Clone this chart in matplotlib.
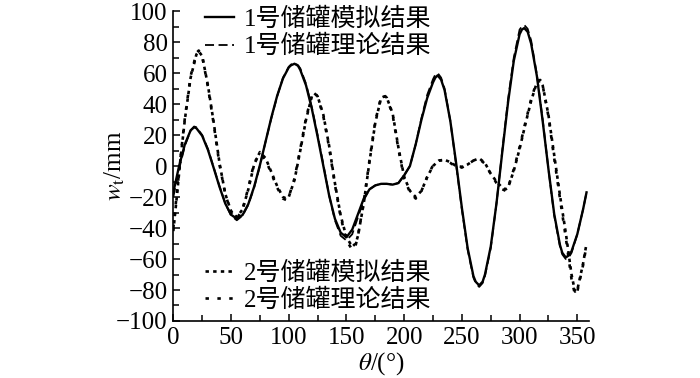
import matplotlib
matplotlib.use('Agg')
import matplotlib.pyplot as plt
from matplotlib.font_manager import FontProperties
from matplotlib.ticker import MultipleLocator

# 1号储罐 (模拟 / 理论)
theta_1 = [0, 5, 10, 15, 18, 20, 25, 30, 35, 40, 45, 50, 55, 60, 65, 70, 75, 80, 85, 90, 95,
           100, 102, 105, 108, 110, 115, 120, 125, 130, 135, 140, 145, 150, 155, 160, 165,
           170, 175, 180, 185, 190, 195, 200, 205, 210, 215, 220, 225, 227, 229, 232, 235,
           240, 245, 250, 255, 260, 262, 265, 268, 270, 275, 280, 285, 290, 295, 300, 302,
           304, 307, 310, 315, 320, 325, 330, 335, 337, 340, 343, 345, 350, 355, 358]
w_sim1 = [-17, 0, 14, 23, 25, 24.4, 19.5, 10.4, -1.3, -13.4, -24.2, -31.4, -34, -31.6, -24.5,
          -13.4, 0.5, 16, 31.5, 45.4, 56.5, 63.6,
          65, 66, 64.7,
          62, 52, 37, 19, 0, -19, -34, -43, -46, -41, -31, -21, -15, -12.5, -11.5, -11.5,
          -12, -11, -6, 0, 14, 30, 44, 54,
          57, 58.5, 55.7,
          49, 29, 2, -27, -53, -71,
          -74.7, -77, -74.6,
          -70, -52, -24, 9, 41, 68, 85,
          88, 89, 86.6,
          79, 58, 29, -2, -31, -51,
          -56, -59, -57.5,
          -55, -44, -28, -17]
w_theo1 = [-20, -2, 13, 23, 25.5, 25, 20, 11, -1, -13, -24, -32, -35, -32, -25, -14, 0, 16,
           31, 45, 57, 64,
           65.5, 66.5, 65,
           63, 53, 38, 20, 1, -19, -35, -45, -48, -44, -33, -22, -15, -12.5, -11.5, -11.5,
           -12, -11, -6, 0, 14, 31, 46, 56,
           59, 60, 57,
           50, 29, 1, -28, -54, -72,
           -75.5, -78, -75.5,
           -71, -53, -24, 10, 43, 70, 88,
           90, 91, 88.5,
           81, 59, 30, -2, -32, -52,
           -57, -60, -58.5,
           -56, -44, -28, -17]

# 2号储罐 (模拟 / 理论)
theta_2 = [0, 3, 6, 10, 15, 20, 22, 25, 30, 35, 40, 45, 50, 55, 60, 65, 70, 75, 80, 85,
           90, 95, 98, 100, 105, 110, 115, 120, 122, 125, 130, 135, 140, 145, 150, 155,
           158, 160, 165, 170, 175, 180, 183, 185, 190, 195, 200, 205, 210, 215, 220, 225,
           230, 235, 240, 245, 250, 255, 260, 265, 270, 275, 280, 285, 288, 290, 295, 300,
           305, 310, 315, 318, 320, 325, 330, 335, 340, 345, 348, 350, 355, 358]
w_sim2 = [-42, -20, 3, 30, 57, 72, 74, 71, 52, 28, 2, -18, -29, -33, -28, -15, 1, 9, 5, -4,
          -13, -20, -21, -20, -9, 10, 30, 45, 47, 45, 33, 13, -11, -32, -46, -52, -50, -45,
          -24, 3, 28, 44, 45, 44, 34, 12, -7, -16, -20, -16, -7, 0, 3.5, 4, 2.5, 0, -0.5, 1,
          3.5, 5, 2, -5, -10, -14, -15, -14, -3, 11, 27, 42, 54, 55, 52, 33, 7, -19, -43,
          -70, -81, -80, -63, -50]
w_theo2 = [-40, -18, 4, 31, 58, 73, 74.5, 71, 51, 27, 1, -18, -30, -34, -28, -14, 2, 8, 4, -5,
           -14, -21, -22, -20, -8, 11, 31, 46, 47.5, 45, 32, 12, -12, -33, -48, -54, -51, -45,
           -23, 4, 29, 44.5, 45.5, 44, 33, 11, -8, -17, -21, -16, -7, 0.5, 3.5, 4, 2, -0.5,
           -1, 1, 3.5, 4.5, 1.5, -5, -11, -15, -16, -14, -2, 12, 28, 43, 55, 55.5, 52, 32, 5,
           -21, -46, -73, -83, -81, -64, -51]

labels_top = ['1号储罐模拟结果', '1号储罐理论结果']
labels_bottom = ['2号储罐模拟结果', '2号储罐理论结果']

plt.rcParams['font.family'] = ['Liberation Serif', 'Noto Sans CJK SC']
plt.rcParams['mathtext.fontset'] = 'stix'

fig = plt.figure(figsize=(7, 3.78), dpi=100)
ax = fig.add_axes([0.2476, 0.1508, 0.5936, 0.820])

l1, = ax.plot(theta_1, w_sim1, color='black', lw=1.7, ls='-')
l2, = ax.plot(theta_1, w_theo1, color='black', lw=1.3, ls=(0, (5, 2.5)))
l3, = ax.plot(theta_2, w_sim2, color='black', lw=1.9, ls=(0, (1.3, 1.6)))
l4, = ax.plot(theta_2, w_theo2, color='black', lw=1.9, ls=(0, (1.3, 3.2)))

ax.set_xlim(0, 360)
ax.set_ylim(-100, 100)
ax.xaxis.set_major_locator(MultipleLocator(50))
ax.xaxis.set_minor_locator(MultipleLocator(25))
ax.yaxis.set_major_locator(MultipleLocator(20))
ax.yaxis.set_minor_locator(MultipleLocator(10))
ax.tick_params(which='both', direction='in', labelsize=18, width=1.1, pad=4)
ax.tick_params(which='major', length=5)
ax.tick_params(which='minor', length=4)
ax.spines['top'].set_visible(False)
ax.spines['right'].set_visible(False)
ax.spines['left'].set_linewidth(1.2)
ax.spines['bottom'].set_linewidth(1.2)

ax.set_xlabel(r'$\theta$/(°)', fontsize=18, labelpad=1)
ax.set_ylabel(r'$w_{\rm t}$/mm', fontsize=18, labelpad=-8)

font = FontProperties(family=['Liberation Serif', 'Noto Sans CJK SC'], size=18)
leg1 = ax.legend([l1, l2], labels_top, loc='upper left', bbox_to_anchor=(0.076, 1.01),
                 frameon=False, prop=font, handlelength=1.15, handletextpad=0.4,
                 labelspacing=0.15, borderpad=0, borderaxespad=0)
ax.add_artist(leg1)
ax.legend([l3, l4], labels_bottom, loc='lower left', bbox_to_anchor=(0.076, 0.03),
          frameon=False, prop=font, handlelength=1.15, handletextpad=0.4,
          labelspacing=0.15, borderpad=0, borderaxespad=0)

fig.savefig('out.png', dpi=100)
